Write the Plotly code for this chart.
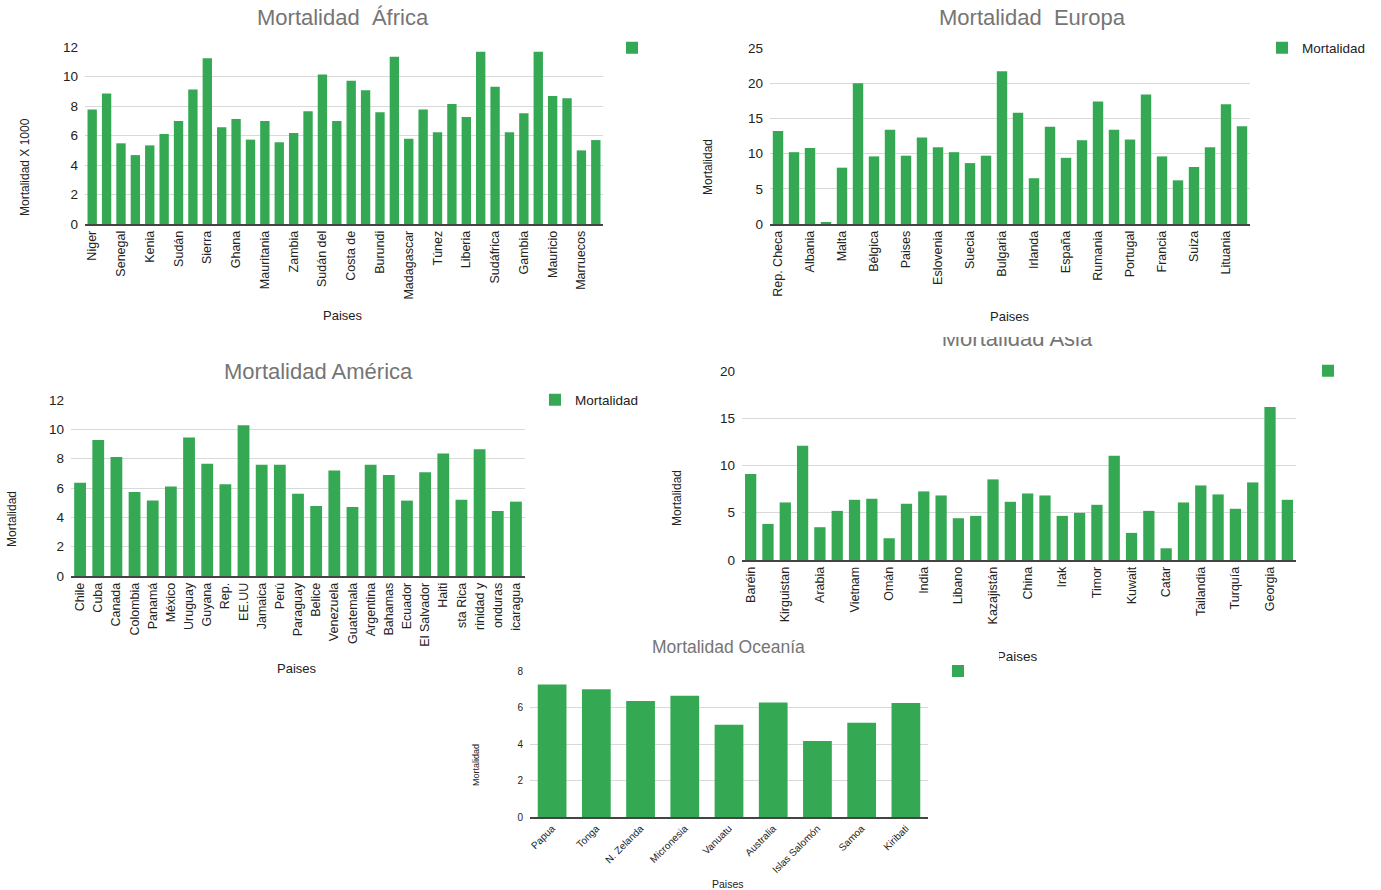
import plotly.graph_objects as go

W, H = 1381, 890
GREEN = "#34A853"
FONT = "Arial, Liberation Sans, sans-serif"
TITLE_C = "#757575"
TEXT_C = "#333333"

# ---------------- data ----------------
africa_countries = ["Niger", "Chad", "Senegal", "Malí", "Kenia", "Nigeria", "Sudán", "Somalia",
                    "Sierra", "Angola", "Ghana", "Camerún", "Mauritania", "Guinea", "Zambia", "Etiopía",
                    "Sudán del", "Lesoto", "Costa de", "Togo", "Burundi", "Benín", "Madagascar", "Malaui",
                    "Túnez", "Namibia", "Liberia", "Egipto", "Sudáfrica", "Argelia", "Gambia", "Botsuana",
                    "Mauricio", "Tanzania", "Marruecos", "Ruanda"]
africa_values = [7.76, 8.85, 5.47, 4.67, 5.33, 6.10, 6.99, 9.12, 11.23, 6.56, 7.12, 5.72,
                 6.99, 5.54, 6.17, 7.65, 10.14, 6.99, 9.71, 9.07, 7.58, 11.34, 5.78, 7.76,
                 6.22, 8.14, 7.26, 11.68, 9.30, 6.22, 7.51, 11.68, 8.67, 8.53, 4.99, 5.69]
africa_ticks = africa_countries[::2]

europe_countries = ["Rep. Checa", "Eslovaquia", "Albania", "Andorra", "Malta", "Hungría", "Bélgica",
                    "Alemania", "Paises", "Grecia", "Eslovenia", "Austria", "Suecia", "Noruega",
                    "Bulgaria", "Serbia", "Irlanda", "Croacia", "España", "Italia", "Rumania", "Polonia",
                    "Portugal", "Letonia", "Francia", "Islandia", "Suiza", "Finlandia", "Lituania", "Estonia"]
europe_values = [13.2, 10.2, 10.8, 0.15, 8.0, 20.0, 9.6, 13.4, 9.7, 12.3, 10.9, 10.2, 8.65, 9.7,
                 21.7, 15.8, 6.5, 13.8, 9.4, 11.9, 17.4, 13.4, 12.0, 18.4, 9.6, 6.2, 8.1, 10.9, 17.0, 13.9]
europe_ticks = europe_countries[::2]

america_countries = ["Chile", "Cuba", "Canada", "Colombia", "Panamá", "México", "Uruguay", "Guyana",
                     "Rep.", "EE.UU", "Jamaica", "Perú", "Paraguay", "Belice", "Venezuela", "Guatemala",
                     "Argentina", "Bahamas", "Ecuador", "El Salvador", "Haiti", "sta Rica", "rinidad y",
                     "onduras", "icaragua"]
america_values = [6.36, 9.27, 8.11, 5.73, 5.14, 6.11, 9.45, 7.66, 6.25, 10.27, 7.59, 7.59, 5.61,
                  4.77, 7.2, 4.7, 7.59, 6.89, 5.14, 7.07, 8.36, 5.2, 8.64, 4.43, 5.07]
america_ticks = america_countries

asia_countries = ["Baréin", "Yemen", "Kirguistan", "Afganistán", "Arabia", "Jordania", "Vietnam", "Irán",
                  "Omán", "Siria", "India", "Israel", "Libano", "Pakistán", "Kazajistán", "Mongolia",
                  "China", "Japón", "Irak", "Corea", "Timor", "Laos", "Kuwait", "Sri Lanka", "Catar",
                  "Emiratos", "Tailandia", "Indonesia", "Turquía", "Armenia", "Georgia", "Azerbaiyán"]
asia_values = [9.1, 3.82, 6.09, 12.1, 3.47, 5.2, 6.37, 6.48, 2.3, 5.95, 7.26, 6.83, 4.42, 4.67,
               8.53, 6.16, 7.04, 6.83, 4.67, 4.99, 5.84, 11.04, 2.87, 5.2, 1.24, 6.09, 7.89, 6.94,
               5.42, 8.21, 16.18, 6.37]
asia_ticks = asia_countries[::2]

oceania_countries = ["Papua", "Tonga", "N. Zelanda", "Micronesia", "Vanuatu", "Australia",
                     "Islas Salomón", "Samoa", "Kiribati"]
oceania_values = [7.26, 7.0, 6.35, 6.64, 5.06, 6.28, 4.17, 5.17, 6.24]
oceania_ticks = oceania_countries


def px_x(px):
    return px / W


def px_y(py):
    return 1 - py / H


charts = [
    dict(cats=africa_countries, vals=africa_values, ticks=africa_ticks, xd=(85, 603), yd=(47, 224),
         rng=12, dtick=2, name="", angle=-90, fs=12.5, yfs=13.5, leg=(632, 48)),
    dict(cats=europe_countries, vals=europe_values, ticks=europe_ticks, xd=(770, 1250), yd=(48, 224),
         rng=25, dtick=5, name="Mortalidad", angle=-90, fs=12.5, yfs=13.5, leg=(1282, 48)),
    dict(cats=america_countries, vals=america_values, ticks=america_ticks, xd=(71, 525), yd=(400, 576),
         rng=12, dtick=2, name="Mortalidad", angle=-90, fs=12.5, yfs=13.5, leg=(555, 400)),
    dict(cats=asia_countries, vals=asia_values, ticks=asia_ticks, xd=(742, 1296), yd=(371, 560),
         rng=20, dtick=5, name="", angle=-90, fs=12.5, yfs=13.5, leg=(1328, 371)),
    dict(cats=oceania_countries, vals=oceania_values, ticks=oceania_ticks, xd=(530, 928), yd=(671, 817),
         rng=8, dtick=2, name="", angle=-45, fs=10, yfs=10, leg=(958, 671)),
]

fig = go.Figure()
layout = dict(
    width=W, height=H, autosize=False,
    margin=dict(l=0, r=0, t=0, b=0, autoexpand=False),
    paper_bgcolor="white", plot_bgcolor="rgba(0,0,0,0)",
    bargap=0.35,
    font=dict(family=FONT, color=TEXT_C),
    annotations=[], shapes=[],
)

for i, c in enumerate(charts, start=1):
    sfx = "" if i == 1 else str(i)
    leg = "legend" if i == 1 else f"legend{i}"
    fig.add_trace(go.Bar(
        x=c["cats"], y=c["vals"], name=c["name"],
        marker=dict(color=GREEN, line=dict(width=0)),
        xaxis=f"x{sfx}", yaxis=f"y{sfx}", legend=leg, showlegend=True, hoverinfo="x+y",
    ))
    layout[f"xaxis{sfx}"] = dict(
        domain=[px_x(c["xd"][0]), px_x(c["xd"][1])], anchor=f"y{sfx}",
        type="category", tickmode="array", tickvals=c["ticks"], ticktext=c["ticks"],
        tickangle=c["angle"], tickfont=dict(size=c["fs"], color="#222222"),
        showline=True, linecolor="#444444", linewidth=1.5, showgrid=False, ticks="",
        fixedrange=True, automargin=False,
    )
    layout[f"yaxis{sfx}"] = dict(
        domain=[px_y(c["yd"][1]), px_y(c["yd"][0])], anchor=f"x{sfx}",
        range=[0, c["rng"]], dtick=c["dtick"], showgrid=True, gridcolor="#d9d9d9", gridwidth=1,
        zeroline=False, showline=False, ticks="", ticklabelstandoff=6,
        tickfont=dict(size=c["yfs"], color="#222222"), fixedrange=True, automargin=False,
    )
    layout[leg] = dict(
        x=px_x(c["leg"][0] - 20), y=px_y(c["leg"][1]), xanchor="left", yanchor="middle",
        bgcolor="rgba(0,0,0,0)", font=dict(size=13.5 if i != 5 else 10, color="#222222"),
    )


def ann(text, x, y, size, color, angle=0):
    layout["annotations"].append(dict(
        text=text, x=px_x(x), y=px_y(y), xref="paper", yref="paper", showarrow=False,
        xanchor="center", yanchor="middle", textangle=angle,
        font=dict(size=size, color=color, family=FONT),
    ))


# chart titles
ann("Mortalidad  África", 343, 18, 22, TITLE_C)
ann("Mortalidad  Europa", 1032, 18, 22, TITLE_C)
ann("Mortalidad América", 318, 371, 22, TITLE_C)
ann("Mortalidad Oceanía", 728, 647, 17.5, TITLE_C)
# y-axis titles
ann("Mortalidad X 1000", 25, 167, 12, "#222222", -90)
ann("Mortalidad", 708, 167, 12, "#222222", -90)
ann("Mortalidad", 12, 519, 12, "#222222", -90)
ann("Mortalidad", 677, 498, 12, "#222222", -90)
ann("Mortalidad", 476, 765, 9, "#222222", -90)
# x-axis titles
ann("Paises", 343, 315, 13, "#222222")
ann("Paises", 1010, 317, 13, "#222222")
ann("Paises", 297, 668, 13, "#222222")
ann("Paises", 728, 884, 10.5, "#222222")

# canvas axis for partly hidden texts (Asia title and x-title)
fig.add_trace(go.Scatter(
    x=[1017, 1017], y=[340, 658], mode="text",
    text=["Mortalidad Asia", "Paises"],
    textfont=dict(size=[22, 13.5], color=[TITLE_C, "#222222"], family=FONT),
    xaxis="x6", yaxis="y6", showlegend=False, hoverinfo="skip",
))
layout["xaxis6"] = dict(domain=[0, 1], range=[0, W], visible=False, anchor="y6", fixedrange=True)
layout["yaxis6"] = dict(domain=[0, 1], range=[H, 0], visible=False, anchor="x6", fixedrange=True)

# cover shapes that hide the top of the Asia title and the start of its x-title
layout["shapes"].append(dict(type="rect", xref="paper", yref="paper",
                             x0=px_x(900), x1=px_x(1130), y0=px_y(337), y1=px_y(322),
                             fillcolor="white", line=dict(width=0), layer="above"))
layout["shapes"].append(dict(type="rect", xref="paper", yref="paper",
                             x0=px_x(975), x1=px_x(999), y0=px_y(668), y1=px_y(648),
                             fillcolor="white", line=dict(width=0), layer="above"))

fig.update_layout(**layout)
fig.write_html("out.html", config={"displayModeBar": False},
               post_script="document.body.style.margin='0';document.body.style.overflow='hidden';")
